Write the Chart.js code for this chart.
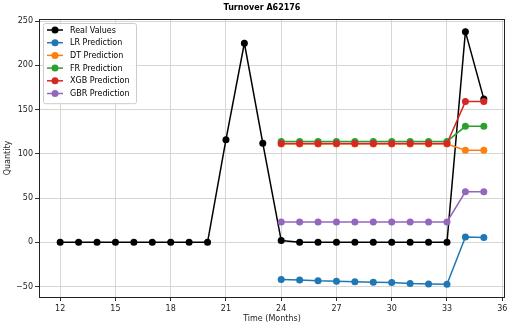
<!DOCTYPE html>
<html>
<head>
<meta charset="utf-8">
<script src="https://cdn.jsdelivr.net/npm/chart.js@4.4.0/dist/chart.umd.min.js"></script>
<style>
  html, body { margin: 0; padding: 0; background: #fff; }
  #wrap { width: 512px; height: 327px; position: relative; }
</style>
</head>
<body>
<div id="wrap"><canvas id="turnoverChart"></canvas></div>
<script>
// data
const months = [12, 13, 14, 15, 16, 17, 18, 19, 20, 21, 22, 23, 24, 25, 26, 27, 28, 29, 30, 31, 32, 33, 34, 35];
const realValues = [0, 0, 0, 0, 0, 0, 0, 0, 0, 116, 225, 112, 2, 0, 0, 0, 0, 0, 0, 0, 0, 0, 238, 162];

const predMonths = [24, 25, 26, 27, 28, 29, 30, 31, 32, 33, 34, 35];
const lrPred  = [-42, -42.5, -43.5, -44, -44.5, -45, -45.5, -46.5, -47, -47.5, 6, 5.5];
const dtPred  = [111, 111, 111, 111, 111, 111, 111, 111, 111, 111, 104, 104];
const frPred  = [114, 114, 114, 114, 114, 114, 114, 114, 114, 114, 131, 131];
const xgbPred = [111.5, 111.5, 111.5, 111.5, 111.5, 111.5, 111.5, 111.5, 111.5, 111.5, 159, 159];
const gbrPred = [23, 23, 23, 23, 23, 23, 23, 23, 23, 23, 57, 57];

const xTicks = [12, 15, 18, 21, 24, 27, 30, 33, 36];
const yTicks = [-50, 0, 50, 100, 150, 200, 250];

const FONT = "'DejaVu Sans', sans-serif";

function toPoints(xs, ys) {
    return xs.map((x, i) => ({ x: x, y: ys[i] }));
}

function makeSet(label, xs, ys, color, order) {
    return {
        label: label,
        data: toPoints(xs, ys),
        borderColor: color,
        backgroundColor: color,
        borderWidth: 1.5,
        pointRadius: 3.5,
        pointBorderWidth: 0,
        pointBackgroundColor: color,
        tension: 0,
        order: order
    };
}

// matplotlib-like legend, frame and title drawn inside the plot
const mplDecor = {
    id: 'mplDecor',
    afterDraw(chart) {
        const ctx = chart.ctx;
        const a = chart.chartArea;
        ctx.save();

        // axes frame
        ctx.strokeStyle = '#222';
        ctx.lineWidth = 1;
        ctx.strokeRect(Math.round(a.left) + 0.5, Math.round(a.top) + 0.5,
            Math.round(a.right - a.left) - 1, Math.round(a.bottom - a.top));

        // title
        ctx.fillStyle = '#000';
        ctx.font = '600 8px ' + FONT;
        ctx.textAlign = 'center';
        ctx.textBaseline = 'middle';
        ctx.fillText('Turnover A62176', 262, 8);

        // legend
        const sets = chart.data.datasets;
        const bx = a.left + 4, by = a.top + 4, bw = 93, rowH = 12.7;
        const bh = sets.length * rowH + 4;
        ctx.fillStyle = 'rgba(255,255,255,0.85)';
        ctx.strokeStyle = '#cccccc';
        ctx.beginPath();
        ctx.roundRect(bx + 0.5, by + 0.5, bw, bh, 2);
        ctx.fill();
        ctx.stroke();
        ctx.font = '8px ' + FONT;
        ctx.textAlign = 'left';
        sets.forEach((ds, i) => {
            const y = by + 7 + i * rowH;
            ctx.strokeStyle = ds.borderColor;
            ctx.lineWidth = 1.5;
            ctx.beginPath();
            ctx.moveTo(bx + 4, y);
            ctx.lineTo(bx + 20, y);
            ctx.stroke();
            ctx.fillStyle = ds.borderColor;
            ctx.beginPath();
            ctx.arc(bx + 12, y, 3.5, 0, Math.PI * 2);
            ctx.fill();
            ctx.fillStyle = '#000';
            ctx.fillText(ds.label, bx + 27, y + 0.5);
        });
        ctx.restore();
    }
};

const ctx = document.getElementById('turnoverChart');

new Chart(ctx, {
    type: 'line',
    data: {
        datasets: [
            makeSet('Real Values', months, realValues, '#000000', 6),
            makeSet('LR Prediction', predMonths, lrPred, '#1f77b4', 5),
            makeSet('DT Prediction', predMonths, dtPred, '#ff7f0e', 4),
            makeSet('FR Prediction', predMonths, frPred, '#2ca02c', 3),
            makeSet('XGB Prediction', predMonths, xgbPred, '#d62728', 2),
            makeSet('GBR Prediction', predMonths, gbrPred, '#9467bd', 1)
        ]
    },
    options: {
        responsive: true,
        maintainAspectRatio: false,
        animation: false,
        layout: { padding: { top: 19, right: 7, left: 0, bottom: 0 } },
        plugins: {
            legend: { display: false },
            title: { display: false },
            tooltip: { enabled: false }
        },
        scales: {
            x: {
                type: 'linear',
                min: 10.85,
                max: 36.15,
                afterBuildTicks: (scale) => { scale.ticks = xTicks.map(v => ({ value: v })); },
                afterFit: (scale) => { scale.height = 30; },
                grid: { color: '#d6d6d6', tickColor: '#333', tickLength: 4, lineWidth: 1 },
                border: { display: false },
                ticks: { color: '#222', font: { family: FONT, size: 8 }, padding: 3, maxRotation: 0 },
                title: {
                    display: true,
                    text: 'Time (Months)',
                    color: '#222',
                    font: { family: FONT, size: 8 },
                    padding: { top: 0, bottom: 3 }
                }
            },
            y: {
                min: -61.8,
                max: 252.3,
                afterBuildTicks: (scale) => { scale.ticks = yTicks.map(v => ({ value: v })); },
                afterFit: (scale) => { scale.width = 39; },
                grid: { color: '#d6d6d6', tickColor: '#333', tickLength: 4, lineWidth: 1 },
                border: { display: false },
                ticks: {
                    color: '#222',
                    font: { family: FONT, size: 8 },
                    padding: 2,
                    callback: (v) => (v < 0 ? '\u2212' + Math.abs(v) : String(v))
                },
                title: {
                    display: true,
                    text: 'Quantity',
                    color: '#222',
                    font: { family: FONT, size: 8 },
                    padding: { top: 3, bottom: 0 }
                }
            }
        }
    },
    plugins: [mplDecor]
});
</script>
</body>
</html>
